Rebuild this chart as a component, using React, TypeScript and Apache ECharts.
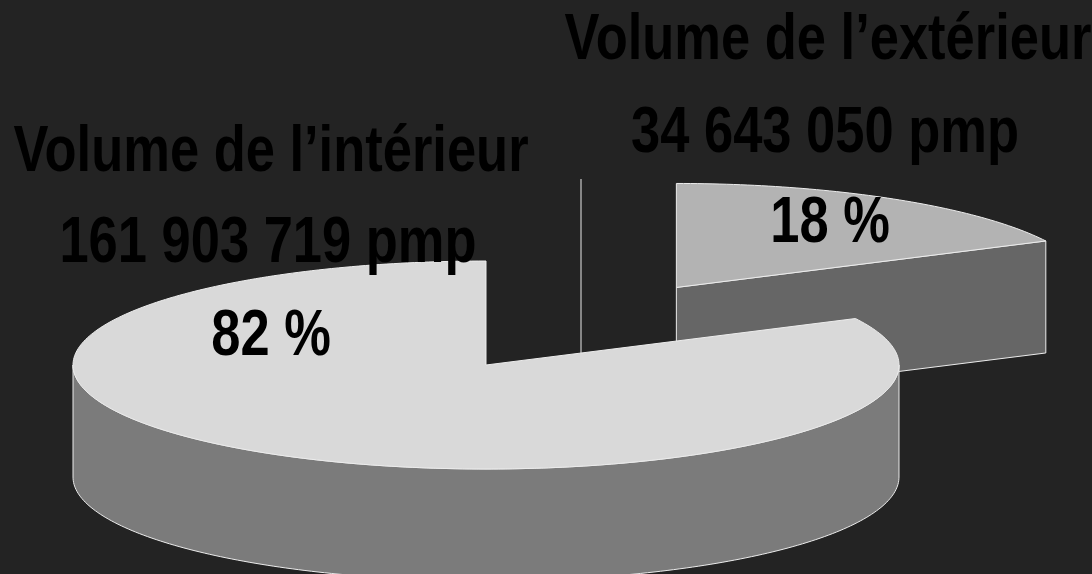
import React, { useEffect, useRef } from "react";
import * as echarts from "echarts";

// ---- data ----
const categories = ["Volume de l’intérieur", "Volume de l’extérieur"];
const values = [161903719, 34643050];
const unit = "pmp";
const topColors = ["#d9d9d9", "#b3b3b3"];
const sideColors = ["#7b7b7b", "#666666"];
const explode = [0, 362];

// ---- layout ----
const CX = 486;
const CY = 365;
const RX = 413;
const RY = 104;
const DEPTH = 112;
const START = 90; // degrees, counter-clockwise
const EDGE = "#ececec";
const FONT = "'Liberation Sans', Arial, sans-serif";
const NARROW = 0.82;

const total = values.reduce((a, b) => a + b, 0);
const fmt = (n: number) => String(n).replace(/\B(?=(\d{3})+(?!\d))/g, " ");
const pct = (n: number) => Math.round((n / total) * 100) + " %";

function renderItem(params: any, api: any) {
  const i = params.dataIndex;
  const v = api.value(0);
  let before = 0;
  for (let k = 0; k < i; k++) before += values[k];
  const a0 = START + (before / total) * 360;
  const a1 = a0 + (v / total) * 360;
  const rad = (d: number) => (d * Math.PI) / 180;
  const mid = rad((a0 + a1) / 2);
  const e = explode[i] || 0;
  const cx = CX + e * Math.cos(mid);
  const cy = CY - e * (RY / RX) * Math.sin(mid);
  const pt = (deg: number, dz: number) => [
    cx + RX * Math.cos(rad(deg)),
    cy - RY * Math.sin(rad(deg)) + dz,
  ];
  const arc = (from: number, to: number, dz: number) => {
    const pts: number[][] = [];
    const n = Math.max(2, Math.ceil(Math.abs(to - from)));
    for (let s = 0; s <= n; s++) pts.push(pt(from + ((to - from) * s) / n, dz));
    return pts;
  };
  const base = Math.round(cy) * 4;
  const children: any[] = [];
  const face = (deg: number) => {
    const p = pt(deg, 0);
    return {
      type: "polygon",
      z2: base,
      shape: { points: [[cx, cy], p, [p[0], p[1] + DEPTH], [cx, cy + DEPTH]] },
      style: { fill: sideColors[i], stroke: EDGE, lineWidth: 1 },
    };
  };
  if (Math.cos(rad(a0)) > 1e-6) children.push(face(a0));
  if (Math.cos(rad(a1)) < -1e-6) children.push(face(a1));
  for (let k = -1; k <= 2; k++) {
    const f0 = 180 + 360 * k;
    const f1 = 360 + 360 * k;
    const s = Math.max(a0, f0);
    const t = Math.min(a1, f1);
    if (t > s) {
      const topArc = arc(s, t, 0);
      const botArc = arc(s, t, DEPTH).reverse();
      children.push({
        type: "polygon",
        z2: base + 1,
        shape: { points: topArc.concat(botArc) },
        style: { fill: sideColors[i], stroke: EDGE, lineWidth: 1 },
      });
    }
  }
  children.push({
    type: "polygon",
    z2: base + 2,
    shape: { points: [[cx, cy]].concat(arc(a0, a1, 0)) },
    style: { fill: topColors[i], stroke: EDGE, lineWidth: 1 },
  });
  return { type: "group", children };
}

const label = (x: number, y: number, text: string) => ({
  type: "text",
  z: 10,
  x,
  y,
  scaleX: NARROW,
  style: {
    text,
    fill: "#000000",
    font: `bold 64px ${FONT}`,
    textAlign: "center",
    textVerticalAlign: "middle",
  },
});

export default function App() {
  const ref = useRef<HTMLDivElement>(null);
  useEffect(() => {
    document.body.style.margin = "0";
    const chart = echarts.init(ref.current!, null, { renderer: "svg" });
    chart.setOption({
      animation: false,
      backgroundColor: "#232323",
      series: [
        {
          type: "custom",
          coordinateSystem: "none",
          z: 2,
          data: values.map((v, k) => ({ name: categories[k], value: [v] })),
          renderItem,
        },
      ],
      graphic: [
        {
          type: "line",
          z: 1,
          shape: { x1: 581, y1: 179, x2: 581, y2: 353 },
          style: { stroke: "#a8a8a8", lineWidth: 1.5 },
        },
        label(271, 149, categories[0]),
        label(268, 240, `${fmt(values[0])} ${unit}`),
        label(271, 333, pct(values[0])),
        label(828, 37, categories[1]),
        label(825, 130, `${fmt(values[1])} ${unit}`),
        label(830, 220, pct(values[1])),
      ],
    });
    return () => chart.dispose();
  }, []);
  return <div ref={ref} style={{ width: 1092, height: 574 }} />;
}
